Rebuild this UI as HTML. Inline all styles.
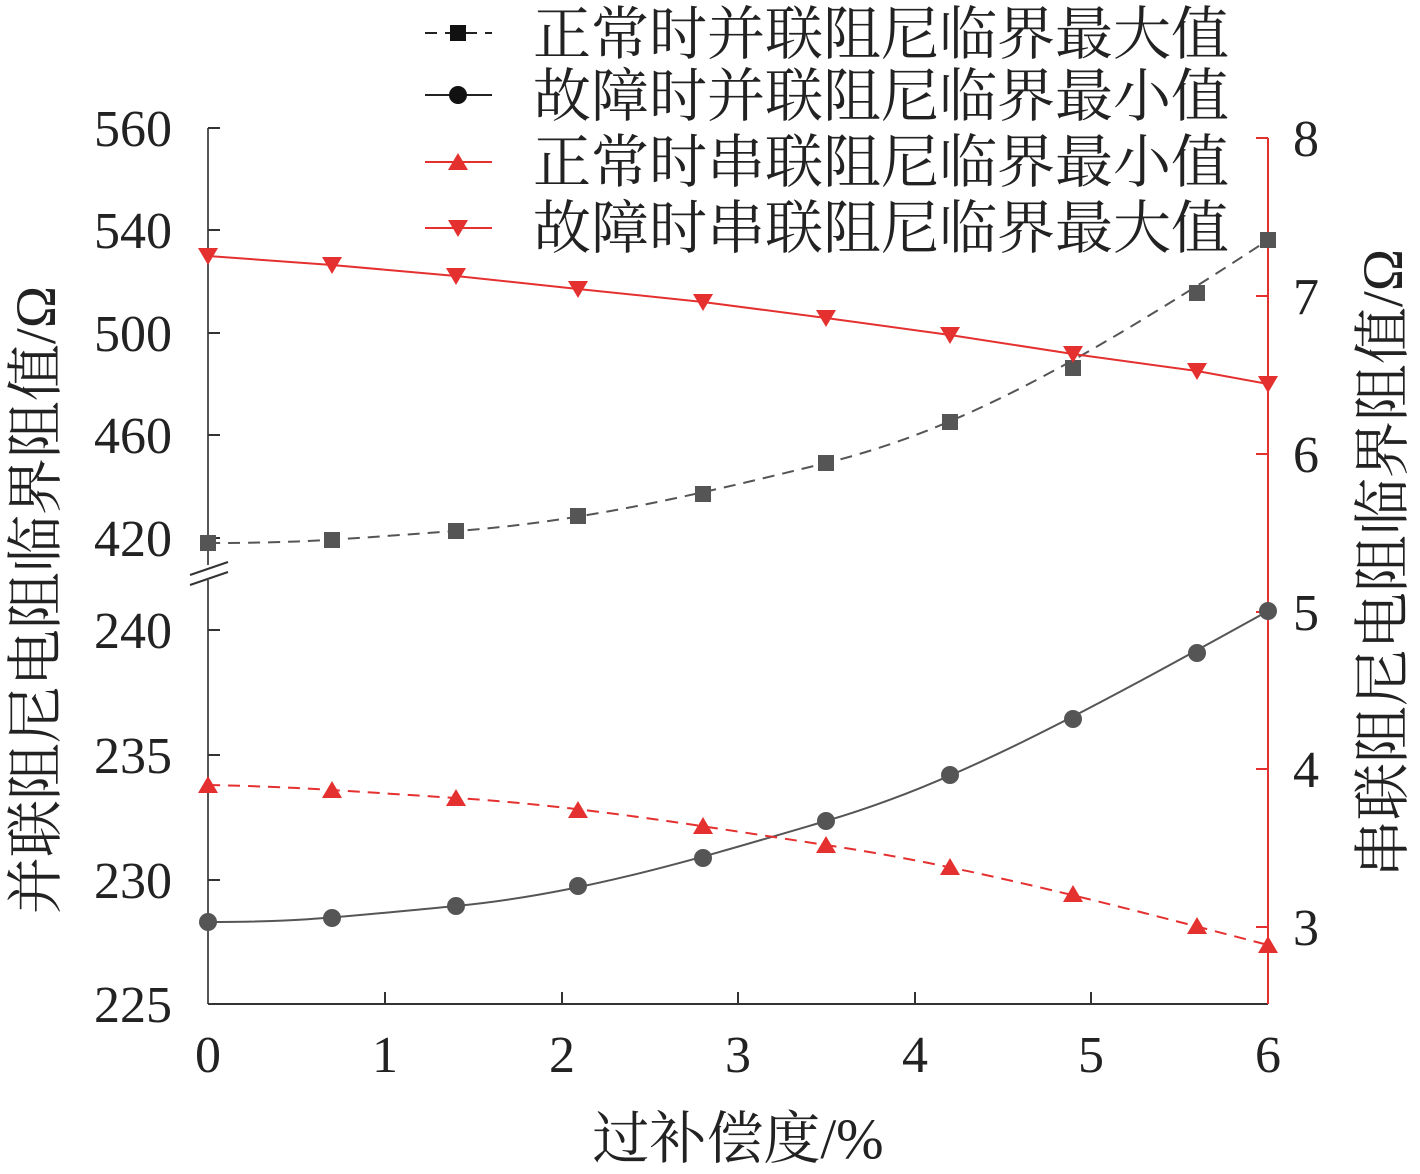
<!DOCTYPE html>
<html><head><meta charset="utf-8"><style>
html,body{margin:0;padding:0;background:#fff;}
svg{display:block;}
text{font-family:"Liberation Serif","Noto Serif CJK SC","Noto Sans CJK SC",serif;}
</style></head><body>
<svg width="1420" height="1174" viewBox="0 0 1420 1174" xmlns="http://www.w3.org/2000/svg">
<line x1="208" y1="128" x2="208" y2="565" stroke="#555" stroke-width="2"/>
<line x1="208" y1="580" x2="208" y2="1004" stroke="#555" stroke-width="2"/>
<line x1="190" y1="575" x2="228" y2="562" stroke="#333" stroke-width="2"/>
<line x1="190" y1="585" x2="228" y2="572" stroke="#333" stroke-width="2"/>
<line x1="208" y1="1004" x2="1268" y2="1004" stroke="#333" stroke-width="2"/>
<line x1="1268" y1="138" x2="1268" y2="1004" stroke="#e53030" stroke-width="2"/>
<g stroke="#333" stroke-width="2">
<line x1="208" y1="128" x2="220" y2="128"/><line x1="208" y1="230" x2="220" y2="230"/>
<line x1="208" y1="333" x2="220" y2="333"/><line x1="208" y1="435" x2="220" y2="435"/>
<line x1="208" y1="538" x2="220" y2="538"/><line x1="208" y1="630" x2="220" y2="630"/>
<line x1="208" y1="755" x2="220" y2="755"/><line x1="208" y1="880" x2="220" y2="880"/>
<line x1="385" y1="1004" x2="385" y2="992"/><line x1="562" y1="1004" x2="562" y2="992"/>
<line x1="738" y1="1004" x2="738" y2="992"/><line x1="915" y1="1004" x2="915" y2="992"/>
<line x1="1091" y1="1004" x2="1091" y2="992"/>
</g>
<g stroke="#e53030" stroke-width="2">
<line x1="1256" y1="138" x2="1268" y2="138"/><line x1="1256" y1="296" x2="1268" y2="296"/>
<line x1="1256" y1="454" x2="1268" y2="454"/><line x1="1256" y1="612" x2="1268" y2="612"/>
<line x1="1256" y1="769" x2="1268" y2="769"/><line x1="1256" y1="927" x2="1268" y2="927"/>
</g>
<g font-size="52" fill="#222" text-anchor="end">
<text x="172" y="146">560</text><text x="172" y="248">540</text><text x="172" y="351">500</text>
<text x="172" y="453">460</text><text x="172" y="556">420</text><text x="172" y="648">240</text>
<text x="172" y="773">235</text><text x="172" y="898">230</text><text x="172" y="1022">225</text>
</g>
<g font-size="52" fill="#222" text-anchor="start">
<text x="1293" y="156">8</text><text x="1293" y="314">7</text><text x="1293" y="472">6</text>
<text x="1293" y="630">5</text><text x="1293" y="787">4</text><text x="1293" y="945">3</text>
</g>
<g font-size="52" fill="#222" text-anchor="middle">
<text x="208" y="1072">0</text><text x="385" y="1072">1</text><text x="562" y="1072">2</text>
<text x="738" y="1072">3</text><text x="915" y="1072">4</text><text x="1091" y="1072">5</text><text x="1268" y="1072">6</text>
</g>
<text x="738" y="1158" font-size="57" fill="#222" text-anchor="middle">过补偿度/%</text>
<text transform="translate(55,600) rotate(-90)" font-size="57" fill="#222" text-anchor="middle">并联阻尼电阻临界阻值/Ω</text>
<text transform="translate(1402,563) rotate(-90)" font-size="57" fill="#222" text-anchor="middle">串联阻尼电阻临界阻值/Ω</text>
<path d="M208,543 C300,543 330,540 456,531 S700,494 826,463 S1073,368 1268,240" fill="none" stroke="#555" stroke-width="2" stroke-dasharray="12,8"/>
<path d="M208,922 C300,922 330,918 456,906 S700,858 826,821 S1073,719 1268,611" fill="none" stroke="#555" stroke-width="2"/>
<path d="M208,785 C300,787 330,790 456,798 S700,826 826,845 S1073,894 1268,945" fill="none" stroke="#e53030" stroke-width="2" stroke-dasharray="12,8"/>
<polyline points="208,256 332,265 456,276 578,289 703,302 826,318 950,335 1073,354 1197,371 1268,384" fill="none" stroke="#e53030" stroke-width="2"/>
<g fill="#555">
<rect x="200" y="535" width="16" height="16"/><rect x="324" y="532" width="16" height="16"/>
<rect x="448" y="523" width="16" height="16"/><rect x="570" y="508" width="16" height="16"/>
<rect x="695" y="486" width="16" height="16"/><rect x="818" y="455" width="16" height="16"/>
<rect x="942" y="414" width="16" height="16"/><rect x="1065" y="360" width="16" height="16"/>
<rect x="1189" y="285" width="16" height="16"/><rect x="1260" y="232" width="16" height="16"/>
<circle cx="208" cy="922" r="9"/><circle cx="332" cy="918" r="9"/><circle cx="456" cy="906" r="9"/>
<circle cx="578" cy="886" r="9"/><circle cx="703" cy="858" r="9"/><circle cx="826" cy="821" r="9"/>
<circle cx="950" cy="775" r="9"/><circle cx="1073" cy="719" r="9"/><circle cx="1197" cy="653" r="9"/>
<circle cx="1268" cy="611" r="9"/>
</g>
<g fill="#e53030">
<path d="M208,776 l10,17 h-20z"/><path d="M332,781 l10,17 h-20z"/><path d="M456,789 l10,17 h-20z"/>
<path d="M578,801 l10,17 h-20z"/><path d="M703,817 l10,17 h-20z"/><path d="M826,836 l10,17 h-20z"/>
<path d="M950,858 l10,17 h-20z"/><path d="M1073,885 l10,17 h-20z"/><path d="M1197,917 l10,17 h-20z"/>
<path d="M1268,936 l10,17 h-20z"/>
<path d="M208,265 l10,-17 h-20z"/><path d="M332,274 l10,-17 h-20z"/><path d="M456,285 l10,-17 h-20z"/>
<path d="M578,298 l10,-17 h-20z"/><path d="M703,311 l10,-17 h-20z"/><path d="M826,327 l10,-17 h-20z"/>
<path d="M950,344 l10,-17 h-20z"/><path d="M1073,363 l10,-17 h-20z"/><path d="M1197,380 l10,-17 h-20z"/>
<path d="M1268,393 l10,-17 h-20z"/>
</g>
<line x1="425" y1="33" x2="492" y2="33" stroke="#222" stroke-width="2" stroke-dasharray="12,8"/>
<rect x="450" y="25" width="16" height="16" fill="#111"/>
<line x1="425" y1="95" x2="492" y2="95" stroke="#222" stroke-width="2"/>
<circle cx="458" cy="95" r="9" fill="#111"/>
<line x1="425" y1="162" x2="492" y2="162" stroke="#e53030" stroke-width="2"/>
<path d="M458,153 l10,17 h-20z" fill="#e53030"/>
<line x1="425" y1="228" x2="492" y2="228" stroke="#e53030" stroke-width="2"/>
<path d="M458,237 l10,-17 h-20z" fill="#e53030"/>
<g font-size="58" fill="#222">
<text x="533" y="54">正常时并联阻尼临界最大值</text>
<text x="533" y="116">故障时并联阻尼临界最小值</text>
<text x="533" y="182">正常时串联阻尼临界最小值</text>
<text x="533" y="248">故障时串联阻尼临界最大值</text>
</g>
</svg>
</body></html>
